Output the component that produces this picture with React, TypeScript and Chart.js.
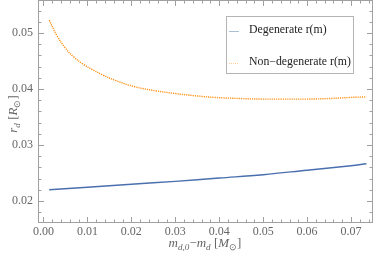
import React, { useEffect, useRef } from "react";
import { Chart, registerables } from "chart.js";

Chart.register(...registerables);

const degX = [0.0013, 0.01, 0.02, 0.03, 0.04, 0.05, 0.06, 0.07, 0.0735];
const degY = [0.0220, 0.02245, 0.0230, 0.0235, 0.0241, 0.0247, 0.0255, 0.0263, 0.02665];

const nonX = [0.0013, 0.003, 0.0049, 0.0068, 0.0091, 0.0113, 0.0135, 0.0165, 0.0208, 0.0254, 0.0299, 0.0345, 0.039, 0.045, 0.05, 0.054, 0.06, 0.065, 0.07, 0.0735];
const nonY = [0.0523, 0.0496, 0.0474, 0.0458, 0.0444, 0.0434, 0.0425, 0.0415, 0.0404, 0.0397, 0.0392, 0.0388, 0.0385, 0.0383, 0.0382, 0.0382, 0.0382, 0.0383, 0.0385, 0.0386];

const xTicks = [0, 0.01, 0.02, 0.03, 0.04, 0.05, 0.06, 0.07];
const yTicks = [0.02, 0.03, 0.04, 0.05];
const seriesLabels = ["Degenerate r(m)", "Non\u2212degenerate r(m)"];

const X_MIN = -0.00125, X_MAX = 0.075, Y_MIN = 0.01607, Y_MAX = 0.0559;

const BLUE = "#4a6fae";
const ORANGE = "rgb(255,145,20)";
const FRAME = "#a0a0a0";
const LABEL = "#666666";
const SERIF = "'Liberation Serif', 'Times New Roman', serif";

function drawRich(ctx: CanvasRenderingContext2D, parts: { t: string; sub?: boolean; it?: boolean }[], size: number, measureOnly = false, x = 0, y = 0) {
  let w = 0;
  for (const p of parts) {
    const s = p.sub ? size * 0.7 : size;
    ctx.font = `${p.it ? "italic " : ""}${s}px ${SERIF}`;
    const m = ctx.measureText(p.t).width;
    if (!measureOnly) ctx.fillText(p.t, x + w, y + (p.sub ? size * 0.25 : 0));
    w += m;
  }
  return w;
}

const framePlugin = {
  id: "framePlugin",
  afterDraw(chart: any) {
    const ctx = chart.ctx as CanvasRenderingContext2D;
    const { left, right, top, bottom } = chart.chartArea;
    const xs = chart.scales.x, ys = chart.scales.y;
    ctx.save();
    ctx.strokeStyle = FRAME;
    ctx.lineWidth = 1;
    ctx.strokeRect(Math.round(left) + 0.5, Math.round(top) + 0.5, Math.round(right - left) - 1, Math.round(bottom - top) - 1);
    ctx.beginPath();
    for (let i = 0; i <= 37; i++) {
      const v = i * 0.002;
      if (v > X_MAX) break;
      const major = Math.abs(v / 0.01 - Math.round(v / 0.01)) < 1e-6;
      const L = major ? 6 : 3.5;
      const px = Math.round(xs.getPixelForValue(v)) + 0.5;
      ctx.moveTo(px, bottom); ctx.lineTo(px, bottom - L);
      ctx.moveTo(px, top); ctx.lineTo(px, top + L);
    }
    for (let i = 8; i <= 28; i++) {
      const v = i * 0.002;
      if (v < Y_MIN || v > Y_MAX) continue;
      const major = Math.abs(v / 0.01 - Math.round(v / 0.01)) < 1e-6;
      const L = major ? 6 : 3.5;
      const py = Math.round(ys.getPixelForValue(v)) + 0.5;
      ctx.moveTo(left, py); ctx.lineTo(left + L, py);
      ctx.moveTo(right, py); ctx.lineTo(right - L, py);
    }
    ctx.stroke();

    // axis titles
    ctx.fillStyle = LABEL;
    ctx.textBaseline = "alphabetic";
    const xParts = [
      { t: "m", it: true }, { t: "d,0", it: true, sub: true }, { t: "\u2212" }, { t: "m", it: true }, { t: "d", it: true, sub: true },
      { t: " [" }, { t: "M", it: true }, { t: "\u2299", sub: true }, { t: "]" },
    ];
    const size = 13;
    const wx = drawRich(ctx, xParts, size, true);
    drawRich(ctx, xParts, size, false, 205 - wx / 2, 247);
    const yParts = [
      { t: "r", it: true }, { t: "d", it: true, sub: true }, { t: " [" }, { t: "R", it: true }, { t: "\u2299", sub: true }, { t: "]" },
    ];
    const wy = drawRich(ctx, yParts, size, true);
    ctx.translate(17, 114);
    ctx.rotate(-Math.PI / 2);
    drawRich(ctx, yParts, size, false, -wy / 2, 0);
    ctx.restore();

    // legend
    ctx.save();
    ctx.fillStyle = "#ffffff";
    ctx.fillRect(226, 16, 127, 57);
    ctx.strokeStyle = "#b4b4b4";
    ctx.lineWidth = 1;
    ctx.strokeRect(226.5, 16.5, 127, 57);
    ctx.font = `11.8px ${SERIF}`;
    ctx.fillStyle = "#222222";
    ctx.textBaseline = "middle";
    const rows = [30, 62];
    chart.data.datasets.forEach((ds: any, i: number) => {
      const y = rows[i];
      ctx.save();
      ctx.globalAlpha = 0.45;
      ctx.strokeStyle = ds.borderColor;
      ctx.lineWidth = 1;
      if (ds.borderDash && ds.borderDash.length) ctx.setLineDash([1, 1]);
      ctx.beginPath();
      ctx.moveTo(229, y + 1.5);
      ctx.lineTo(239, y + 1.5);
      ctx.stroke();
      ctx.restore();
      ctx.fillText(ds.label, 249, y);
    });
    ctx.restore();
  },
};

export default function App() {
  const ref = useRef<HTMLCanvasElement>(null);
  useEffect(() => {
    document.body.style.margin = "0";
    const chart = new Chart(ref.current!, {
      type: "line",
      data: {
        datasets: [
          {
            label: seriesLabels[0],
            data: degX.map((x, i) => ({ x, y: degY[i] })),
            borderColor: BLUE,
            borderWidth: 1.4,
            pointRadius: 0,
            tension: 0.4,
            fill: false,
          },
          {
            label: seriesLabels[1],
            data: nonX.map((x, i) => ({ x, y: nonY[i] })),
            borderColor: ORANGE,
            borderWidth: 1.4,
            borderDash: [1.2, 1],
            pointRadius: 0,
            tension: 0.4,
            fill: false,
          },
        ],
      },
      options: {
        responsive: false,
        animation: false,
        layout: { padding: { left: 0, right: 1, top: 0, bottom: 0 } },
        plugins: { legend: { display: false }, tooltip: { enabled: false } },
        scales: {
          x: {
            type: "linear",
            min: X_MIN,
            max: X_MAX,
            grid: { display: false, drawTicks: false },
            border: { display: false },
            afterBuildTicks: (s: any) => { s.ticks = xTicks.map((v) => ({ value: v })); },
            afterFit: (s: any) => { s.height = 30; s.paddingLeft = 0; s.paddingRight = 0; },
            ticks: {
              color: LABEL,
              padding: 2,
              maxRotation: 0,
              autoSkip: false,
              font: { family: SERIF, size: 12 },
              callback: (v: any) => Number(v).toFixed(2),
            },
          },
          y: {
            type: "linear",
            min: Y_MIN,
            max: Y_MAX,
            grid: { display: false, drawTicks: false },
            border: { display: false },
            afterBuildTicks: (s: any) => { s.ticks = yTicks.map((v) => ({ value: v })); },
            afterFit: (s: any) => { s.width = 38; s.paddingTop = 0; s.paddingBottom = 0; },
            ticks: {
              color: LABEL,
              padding: 5,
              autoSkip: false,
              font: { family: SERIF, size: 12 },
              callback: (v: any) => Number(v).toFixed(2),
            },
          },
        },
      },
      plugins: [framePlugin],
    });
    return () => chart.destroy();
  }, []);
  return (
    <div style={{ width: 374, height: 253 }}>
      <canvas ref={ref} width={374} height={253} />
    </div>
  );
}
